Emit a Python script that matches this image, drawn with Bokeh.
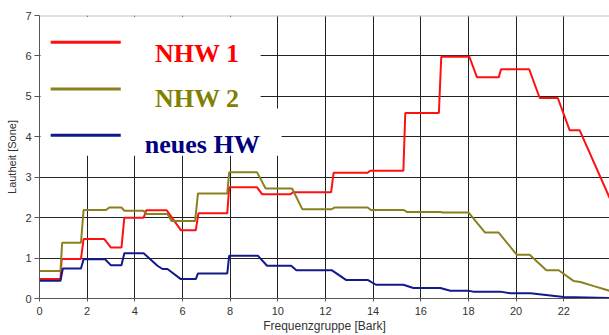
from bokeh.plotting import figure
from bokeh.models import Range1d, FixedTicker, BoxAnnotation, Label, Span
from bokeh.embed import file_html
from bokeh.resources import INLINE

# ---- data ----
nhw1_x = [0, 0.88, 0.93, 1.74, 1.85, 2.72, 3.0, 3.44, 3.56, 4.37, 4.48, 5.34, 5.93, 6.56, 6.67,
          7.88, 7.96, 9.13, 9.34, 10.53, 10.64, 12.24, 12.34, 13.77, 13.88, 15.27, 15.35, 16.76,
          16.86, 18.04, 18.36, 19.27, 19.37, 20.55, 20.99, 21.75, 22.25, 22.67, 24.0]
nhw1_y = [0.48, 0.48, 0.98, 0.98, 1.47, 1.47, 1.26, 1.26, 2.0, 2.0, 2.18, 2.18, 1.69, 1.69, 2.11,
          2.11, 2.75, 2.75, 2.58, 2.58, 2.63, 2.63, 3.11, 3.11, 3.16, 3.16, 4.59, 4.59,
          5.98, 5.98, 5.47, 5.47, 5.67, 5.67, 4.96, 4.96, 4.16, 4.16, 2.39]

nhw2_x = [0, 0.88, 0.95, 1.74, 1.85, 2.79, 2.93, 3.44, 3.56, 4.37, 4.48, 5.37, 5.54, 6.53, 6.65,
          7.88, 7.96, 9.13, 9.49, 10.6, 11.03, 12.26, 12.38, 13.77, 13.91, 15.27, 15.42, 16.82,
          16.93, 18.0, 18.7, 19.27, 20.03, 20.57, 21.27, 21.79, 22.42, 22.7, 23.3, 23.92]
nhw2_y = [0.68, 0.68, 1.38, 1.38, 2.19, 2.19, 2.25, 2.25, 2.17, 2.17, 2.09, 2.09, 1.92, 1.92, 2.60,
          2.60, 3.12, 3.12, 2.72, 2.72, 2.21, 2.21, 2.25, 2.25, 2.19, 2.19, 2.14, 2.14,
          2.13, 2.13, 1.63, 1.63, 1.08, 1.08, 0.70, 0.70, 0.43, 0.41, 0.30, 0.19]

hw_x = [0, 0.88, 0.98, 1.74, 1.85, 2.75, 3.0, 3.44, 3.56, 4.37, 4.95, 5.16, 5.37, 5.93, 6.56, 6.65,
        7.88, 7.96, 9.16, 9.55, 10.56, 10.78, 12.26, 12.86, 13.77, 14.12, 15.27, 15.69, 16.82,
        17.24, 18.0, 18.2, 19.34, 19.76, 20.6, 22.0, 23.92]
hw_y = [0.44, 0.44, 0.74, 0.74, 0.97, 0.97, 0.82, 0.82, 1.12, 1.12, 0.81, 0.73, 0.73, 0.48, 0.48, 0.62,
        0.62, 1.06, 1.06, 0.81, 0.81, 0.70, 0.70, 0.46, 0.46, 0.34, 0.34, 0.26, 0.26,
        0.19, 0.19, 0.17, 0.17, 0.13, 0.13, 0.04, 0.015]

series_names = ["NHW 1", "NHW 2", "neues HW"]
line_colors = ["#ff1010", "#8a8020", "#101a8a"]
text_colors = ["#ff0000", "#808000", "#000080"]

x_ticks = [0, 2, 4, 6, 8, 10, 12, 14, 16, 18, 20, 22]
y_ticks = [0, 1, 2, 3, 4, 5, 6, 7]

# ---- figure ----
p = figure(width=609, height=335, output_backend="svg", toolbar_location=None,
           x_range=Range1d(0, 23.92), y_range=Range1d(0, 7),
           min_border_left=39, min_border_right=0, min_border_top=15, min_border_bottom=37)
p.outline_line_color = None
p.background_fill_color = "white"
p.border_fill_color = "white"

for ax in (p.xaxis[0], p.yaxis[0]):
    ax.axis_line_color = "#555555"
    ax.major_tick_line_color = "#555555"
    ax.minor_tick_line_color = None
    ax.major_tick_in = 0
    ax.major_label_text_font = "Liberation Sans"
    ax.major_label_text_font_size = "11px"
    ax.major_label_text_color = "#333333"
    ax.axis_label_text_font = "Liberation Sans"
    ax.axis_label_text_font_style = "normal"
    ax.axis_label_text_color = "#333333"

p.xaxis.ticker = FixedTicker(ticks=x_ticks)
p.yaxis.ticker = FixedTicker(ticks=y_ticks)
p.xaxis.major_tick_out = 3
p.yaxis.major_tick_out = 5
p.xaxis.major_label_standoff = 5
p.yaxis.major_label_standoff = 3
p.xaxis.axis_label = "Frequenzgruppe [Bark]"
p.yaxis.axis_label = "Lautheit [Sone]"
p.xaxis.axis_label_text_font_size = "12px"
p.yaxis.axis_label_text_font_size = "11px"
p.xaxis.axis_label_standoff = 1
p.yaxis.axis_label_standoff = 4

p.xgrid.ticker = FixedTicker(ticks=x_ticks)
p.ygrid.ticker = FixedTicker(ticks=y_ticks[:-1])
p.xgrid.grid_line_color = "#222222"
p.ygrid.grid_line_color = "#222222"

p.add_layout(Span(location=7, dimension="width", line_color="#c4c4c4", line_width=2))

# ---- legend panel (white, drawn above the grid) ----
p.add_layout(BoxAnnotation(left=0.04, right=9.28, bottom=3.53, top=6.96,
                           fill_color="white", fill_alpha=1, line_color=None, level="underlay"))
p.add_layout(BoxAnnotation(left=9.28, right=10.16, bottom=3.53, top=4.70,
                           fill_color="white", fill_alpha=1, line_color=None, level="underlay"))

# ---- curves ----
for xs, ys, c in zip([nhw1_x, nhw2_x, hw_x], [nhw1_y, nhw2_y, hw_y], line_colors):
    p.line(xs, ys, line_color=c, line_width=2)

# ---- legend lines and labels ----
leg_line_x0, leg_line_x1 = 0.47, 3.41
leg_line_y = [6.34, 5.18, 4.04]
leg_text_x = [6.62, 6.62, 6.83]
leg_text_y = [6.07, 4.95, 3.82]
for name, lc, tc, ly, tx, ty in zip(series_names, line_colors, text_colors,
                                    leg_line_y, leg_text_x, leg_text_y):
    p.line([leg_line_x0, leg_line_x1], [ly, ly], line_color=lc, line_width=3)
    p.add_layout(Label(x=tx, y=ty, text=name, text_font="Liberation Serif",
                       text_font_style="bold", text_font_size="26px", text_color=tc,
                       text_align="center", text_baseline="alphabetic"))

open("out.html", "w").write(file_html(p, INLINE))
